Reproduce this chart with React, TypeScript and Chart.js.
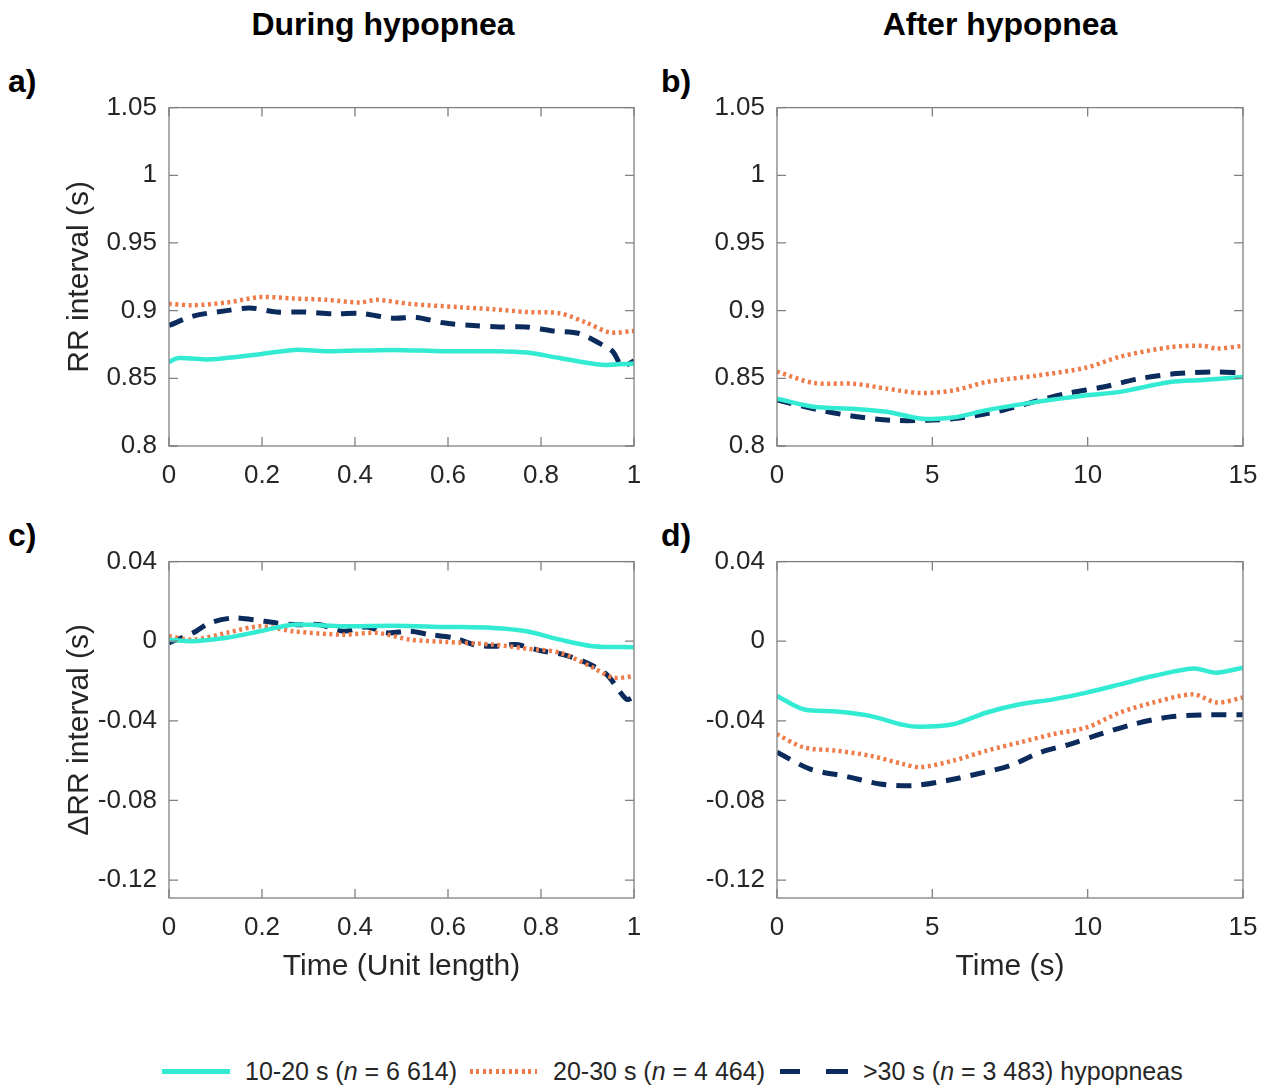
import React, { useEffect, useRef } from "react";
import { Chart, registerables } from "chart.js";

Chart.register(...registerables);

// ---------- data ----------
const xTicksUnit = [0, 0.2, 0.4, 0.6, 0.8, 1];
const xTicksSec = [0, 5, 10, 15];
const yTicksRR = [0.8, 0.85, 0.9, 0.95, 1, 1.05];
const yTicksDRR = [-0.12, -0.08, -0.04, 0, 0.04];

// a) RR during hypopnea
const aCyanX = [0, 0.02, 0.09, 0.2, 0.27, 0.34, 0.48, 0.59, 0.7, 0.77, 0.84, 0.93, 1.0];
const aCyanY = [0.862, 0.865, 0.864, 0.868, 0.871, 0.870, 0.871, 0.870, 0.870, 0.869, 0.865, 0.860, 0.861];
const aOrangeX = [0, 0.052, 0.124, 0.196, 0.267, 0.339, 0.41, 0.447, 0.518, 0.626, 0.697, 0.769, 0.841, 0.898, 0.948, 1.0];
const aOrangeY = [0.905, 0.904, 0.906, 0.91, 0.909, 0.908, 0.906, 0.908, 0.905, 0.9025, 0.901, 0.899, 0.898, 0.891, 0.884, 0.885];
const aNavyX = [0, 0.052, 0.124, 0.174, 0.231, 0.289, 0.36, 0.41, 0.482, 0.532, 0.59, 0.654, 0.711, 0.769, 0.826, 0.883, 0.941, 0.955, 0.975, 1.0];
const aNavyY = [0.889, 0.896, 0.9, 0.902, 0.899, 0.899, 0.8976, 0.898, 0.8944, 0.895, 0.891, 0.889, 0.888, 0.888, 0.885, 0.883, 0.873, 0.8695, 0.859, 0.863];

// b) RR after hypopnea
const bOrangeX = [0, 1.17, 2.46, 3.53, 4.6, 5.67, 6.75, 8.36, 9.97, 11.04, 12.65, 13.7, 14.15, 15];
const bOrangeY = [0.855, 0.8466, 0.846, 0.8424, 0.8392, 0.841, 0.8473, 0.852, 0.858, 0.866, 0.873, 0.874, 0.872, 0.874];
const bCyanX = [0, 1.17, 2.46, 3.53, 4.6, 5.67, 6.75, 8.36, 9.97, 11.04, 12.65, 13.7, 15];
const bCyanY = [0.835, 0.829, 0.8275, 0.8253, 0.8204, 0.821, 0.8265, 0.8326, 0.8375, 0.84, 0.8473, 0.8488, 0.851];
const bNavyX = [0, 1.38, 2.46, 3.64, 4.82, 6.0, 7.18, 8.25, 9.32, 10.5, 11.68, 12.86, 14.04, 15];
const bNavyY = [0.834, 0.8265, 0.822, 0.819, 0.819, 0.821, 0.826, 0.8326, 0.8388, 0.8436, 0.8498, 0.8535, 0.8547, 0.854];

// c) ΔRR during hypopnea
const cCyanX = [0, 0.052, 0.124, 0.196, 0.267, 0.375, 0.482, 0.59, 0.697, 0.769, 0.841, 0.912, 1.0];
const cCyanY = [0.0008, 0, 0.0017, 0.005, 0.0083, 0.0075, 0.0078, 0.0072, 0.0067, 0.005, 0.0008, -0.0025, -0.003];
const cOrangeX = [0, 0.052, 0.124, 0.196, 0.267, 0.375, 0.447, 0.518, 0.59, 0.697, 0.769, 0.841, 0.912, 0.955, 1.0];
const cOrangeY = [0.0025, 0.0008, 0.0042, 0.0075, 0.005, 0.0033, 0.0042, 0.0008, -0.0003, -0.0017, -0.0037, -0.0058, -0.0133, -0.0183, -0.0175];
const cNavyX = [0, 0.052, 0.088, 0.138, 0.181, 0.231, 0.275, 0.325, 0.375, 0.425, 0.468, 0.518, 0.561, 0.612, 0.661, 0.705, 0.747, 0.798, 0.848, 0.898, 0.941, 0.984, 1.0];
const cNavyY = [-0.0008, 0.0042, 0.0092, 0.0117, 0.0108, 0.0092, 0.0083, 0.0083, 0.005, 0.0072, 0.0042, 0.005, 0.0033, 0.0017, -0.002, -0.0025, -0.0017, -0.0047, -0.0067, -0.0108, -0.0167, -0.0292, -0.028];

// d) ΔRR after hypopnea
const dCyanX = [0, 0.85, 1.92, 2.99, 4.06, 4.6, 5.67, 6.75, 7.82, 8.89, 9.97, 11.04, 12.11, 13.4, 14.15, 15];
const dCyanY = [-0.0275, -0.0342, -0.0353, -0.0375, -0.042, -0.043, -0.0417, -0.0358, -0.0317, -0.0292, -0.0258, -0.0217, -0.0175, -0.0137, -0.0158, -0.0133];
const dOrangeX = [0, 0.85, 1.92, 2.99, 4.06, 4.6, 5.67, 6.75, 7.82, 8.89, 9.97, 11.04, 12.11, 13.4, 14.15, 15];
const dOrangeY = [-0.0467, -0.0533, -0.055, -0.0575, -0.0617, -0.0633, -0.06, -0.055, -0.0508, -0.0467, -0.0433, -0.0358, -0.0308, -0.0267, -0.0308, -0.0283];
const dNavyX = [0, 1.07, 2.25, 3.32, 4.4, 5.47, 6.44, 7.51, 8.48, 9.44, 10.4, 11.47, 12.65, 13.72, 15];
const dNavyY = [-0.0558, -0.0642, -0.068, -0.0717, -0.0725, -0.07, -0.0667, -0.0625, -0.0558, -0.0517, -0.0467, -0.0417, -0.038, -0.037, -0.037];

const seriesLabels = ["10-20 s", "20-30 s", ">30 s"];

// ---------- styles ----------
const CYAN = "#33EBD2";
const ORANGE = "#EE7C4B";
const NAVY = "#0B2B5C";
const TEXT = "#262626";
const BOX = "#808080";
const FONT = "'Liberation Sans', Arial, Helvetica, sans-serif";

const styleFor = [
  { color: CYAN, width: 4.5, dash: [] as number[] },
  { color: ORANGE, width: 4.5, dash: [3, 3.5] },
  { color: NAVY, width: 5, dash: [15, 10] },
];

const fmt = (v: number) => String(+Number(v).toFixed(3));

const boxPlugin = {
  id: "matlabBox",
  afterDraw(chart: any) {
    const { ctx, chartArea: a, scales } = chart;
    const xs = scales.x;
    const ys = scales.y;
    const L = 9;
    ctx.save();
    ctx.strokeStyle = BOX;
    ctx.lineWidth = 1.3;
    ctx.strokeRect(a.left, a.top, a.right - a.left, a.bottom - a.top);
    ctx.beginPath();
    for (const t of xs.ticks) {
      const p = xs.getPixelForValue(t.value);
      ctx.moveTo(p, a.bottom);
      ctx.lineTo(p, a.bottom - L);
      ctx.moveTo(p, a.top);
      ctx.lineTo(p, a.top + L);
    }
    for (const t of ys.ticks) {
      const p = ys.getPixelForValue(t.value);
      ctx.moveTo(a.left, p);
      ctx.lineTo(a.left + L, p);
      ctx.moveTo(a.right, p);
      ctx.lineTo(a.right - L, p);
    }
    ctx.stroke();
    ctx.restore();
  },
};

type PanelCfg = {
  left: number; top: number; width: number; height: number;
  yWidth: number; xHeight: number; padTop: number; padRight: number;
  xMin: number; xMax: number; xTicks: number[];
  yMin: number; yMax: number; yTicks: number[];
  yTitle?: string; xTitle?: string;
  series: { x: number[]; y: number[] }[];
};

function Panel({ cfg }: { cfg: PanelCfg }) {
  const ref = useRef<HTMLCanvasElement>(null);
  useEffect(() => {
    if (!ref.current) return;
    const chart = new Chart(ref.current, {
      type: "line",
      data: {
        datasets: cfg.series.map((s, i) => ({
          label: seriesLabels[i],
          data: s.x.map((x, j) => ({ x, y: s.y[j] })),
          borderColor: styleFor[i].color,
          borderWidth: styleFor[i].width,
          borderDash: styleFor[i].dash,
          borderCapStyle: "butt",
          pointRadius: 0,
          tension: 0.3,
          fill: false,
        })),
      },
      options: {
        responsive: false,
        animation: false,
        layout: { padding: { top: cfg.padTop, right: cfg.padRight, left: 0, bottom: 0 } },
        plugins: { legend: { display: false }, tooltip: { enabled: false } },
        scales: {
          x: {
            type: "linear",
            min: cfg.xMin,
            max: cfg.xMax,
            afterBuildTicks: (s: any) => { s.ticks = cfg.xTicks.map((v) => ({ value: v })); },
            afterFit: (s: any) => { s.height = cfg.xHeight; },
            grid: { display: false, drawTicks: true, tickLength: 6 },
            border: { display: false },
            ticks: { padding: 8, color: TEXT, font: { family: FONT, size: 26 }, maxRotation: 0, autoSkip: false, callback: (v: any) => fmt(v) },
            title: { display: !!cfg.xTitle, text: cfg.xTitle || "", color: TEXT, font: { family: FONT, size: 30 }, padding: 0 },
          },
          y: {
            type: "linear",
            min: cfg.yMin,
            max: cfg.yMax,
            afterBuildTicks: (s: any) => { s.ticks = cfg.yTicks.map((v) => ({ value: v })); },
            afterFit: (s: any) => { s.width = cfg.yWidth; },
            grid: { display: false, drawTicks: false },
            border: { display: false },
            ticks: { padding: 12, color: TEXT, font: { family: FONT, size: 26 }, autoSkip: false, callback: (v: any) => fmt(v) },
            title: { display: !!cfg.yTitle, text: cfg.yTitle || "", color: TEXT, font: { family: FONT, size: 30 }, padding: 0 },
          },
        },
      } as any,
      plugins: [boxPlugin],
    });
    return () => chart.destroy();
  }, [cfg]);
  return (
    <canvas
      ref={ref}
      width={cfg.width}
      height={cfg.height}
      style={{ position: "absolute", left: cfg.left, top: cfg.top, width: cfg.width, height: cfg.height }}
    />
  );
}

const panels: PanelCfg[] = [
  {
    left: 62, top: 80, width: 588, height: 430, yWidth: 107, xHeight: 64, padTop: 26, padRight: 16,
    xMin: 0, xMax: 1, xTicks: xTicksUnit, yMin: 0.8, yMax: 1.05, yTicks: yTicksRR,
    yTitle: "RR interval (s)",
    series: [{ x: aCyanX, y: aCyanY }, { x: aOrangeX, y: aOrangeY }, { x: aNavyX, y: aNavyY }],
  },
  {
    left: 680, top: 80, width: 586, height: 430, yWidth: 97, xHeight: 64, padTop: 26, padRight: 23,
    xMin: 0, xMax: 15, xTicks: xTicksSec, yMin: 0.8, yMax: 1.05, yTicks: yTicksRR,
    series: [{ x: bCyanX, y: bCyanY }, { x: bOrangeX, y: bOrangeY }, { x: bNavyX, y: bNavyY }],
  },
  {
    left: 62, top: 534, width: 588, height: 451, yWidth: 107, xHeight: 87, padTop: 26, padRight: 16,
    xMin: 0, xMax: 1, xTicks: xTicksUnit, yMin: -0.129, yMax: 0.04, yTicks: yTicksDRR,
    yTitle: "\u0394RR interval (s)", xTitle: "Time (Unit length)",
    series: [{ x: cCyanX, y: cCyanY }, { x: cOrangeX, y: cOrangeY }, { x: cNavyX, y: cNavyY }],
  },
  {
    left: 680, top: 534, width: 586, height: 451, yWidth: 97, xHeight: 87, padTop: 26, padRight: 23,
    xMin: 0, xMax: 15, xTicks: xTicksSec, yMin: -0.129, yMax: 0.04, yTicks: yTicksDRR,
    xTitle: "Time (s)",
    series: [{ x: dCyanX, y: dCyanY }, { x: dOrangeX, y: dOrangeY }, { x: dNavyX, y: dNavyY }],
  },
];

const abs = (s: React.CSSProperties): React.CSSProperties => ({ position: "absolute", ...s });

export default function App() {
  const head: React.CSSProperties = { fontFamily: FONT, fontWeight: "bold", fontSize: 32, lineHeight: "32px", color: "#000", whiteSpace: "nowrap" };
  const leg: React.CSSProperties = { fontFamily: FONT, fontSize: 25, lineHeight: "26px", color: TEXT, whiteSpace: "nowrap" };
  return (
    <div style={{ position: "absolute", left: 0, top: 0, width: 1270, height: 1088, background: "#fff", overflow: "hidden" }}>
      <div style={abs({ ...head, left: 183, width: 400, top: 8, textAlign: "center" })}>During hypopnea</div>
      <div style={abs({ ...head, left: 800, width: 400, top: 8, textAlign: "center" })}>After hypopnea</div>
      <div style={abs({ ...head, left: 8, top: 65 })}>a)</div>
      <div style={abs({ ...head, left: 661, top: 65 })}>b)</div>
      <div style={abs({ ...head, left: 8, top: 519 })}>c)</div>
      <div style={abs({ ...head, left: 661, top: 519 })}>d)</div>
      {panels.map((p, i) => <Panel key={i} cfg={p} />)}
      <div style={abs({ left: 162, top: 1069, width: 68, height: 4.5, background: CYAN })} />
      <div style={abs({ ...leg, left: 245, top: 1058 })}>10-20 s (<i>n</i> = 6 614)</div>
      <div style={abs({ left: 470, top: 1069, width: 67, height: 4.5, background: `repeating-linear-gradient(90deg, ${ORANGE} 0 3px, transparent 3px 6.5px)` })} />
      <div style={abs({ ...leg, left: 553, top: 1058 })}>20-30 s (<i>n</i> = 4 464)</div>
      <div style={abs({ left: 780, top: 1069, width: 68, height: 5, background: `linear-gradient(90deg, ${NAVY} 0 20px, transparent 20px 46px, ${NAVY} 46px 68px)` })} />
      <div style={abs({ ...leg, left: 863, top: 1058 })}>&gt;30 s (<i>n</i> = 3 483) hypopneas</div>
    </div>
  );
}
